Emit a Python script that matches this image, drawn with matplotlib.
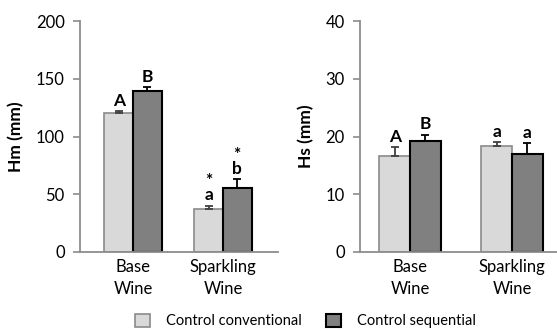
import numpy as np
import matplotlib.pyplot as plt

plt.rcParams['font.family'] = ['Lato', 'DejaVu Sans']

categories = ['Base\nWine', 'Sparkling\nWine']
series = ['Control conventional', 'Control sequential']

hm_conv = [120, 37]
hm_conv_err = [2, 3]
hm_seq = [139, 55]
hm_seq_err = [3.5, 8]
hm_letters_conv = ['A', '*\na']
hm_letters_seq = ['B', '*\nb']

hs_conv = [16.7, 18.4]
hs_conv_err = [1.4, 0.6]
hs_seq = [19.3, 17.0]
hs_seq_err = [1.0, 1.8]
hs_letters_conv = ['A', 'a']
hs_letters_seq = ['B', 'a']

W, H = 557, 331
fig = plt.figure(figsize=(W / 100, H / 100), dpi=100)

light = '#d9d9d9'
dark = '#808080'
spine_col = '#8c8c8c'


def panel(rect, xlim, width, conv, conv_err, seq, seq_err, lc, ls, ymax, ylabel, off):
    ax = fig.add_axes(rect)
    x = np.arange(len(categories))
    ax.bar(x - width / 2, conv, width, color=light, edgecolor='#8a8a8a', linewidth=1.2,
           yerr=[np.zeros(len(conv)), conv_err], error_kw=dict(ecolor='#404040', capsize=3, elinewidth=1.3, capthick=1.3),
           label=series[0], zorder=2)
    ax.bar(x + width / 2, seq, width, color=dark, edgecolor='black', linewidth=1.5,
           yerr=[np.zeros(len(seq)), seq_err], error_kw=dict(ecolor='black', capsize=3, elinewidth=1.3, capthick=1.3),
           label=series[1], zorder=2)
    for i in range(len(categories)):
        ax.text(x[i] - width / 2, conv[i] + conv_err[i] + off, lc[i], ha='center', va='bottom',
                fontsize=12.5, fontweight='bold', linespacing=0.85)
        ax.text(x[i] + width / 2, seq[i] + seq_err[i] + off, ls[i], ha='center', va='bottom',
                fontsize=12.5, fontweight='bold', linespacing=0.85)
    ax.set_xlim(*xlim)
    ax.set_ylim(0, ymax)
    ax.set_yticks(np.linspace(0, ymax, 5))
    ax.set_xticks(x)
    ax.set_xticklabels(categories, fontsize=12, linespacing=1.45)
    ax.tick_params(axis='x', length=0, pad=5)
    ax.tick_params(axis='y', length=5, color=spine_col, width=1.2, labelsize=12, pad=6)
    for s in ['top', 'right']:
        ax.spines[s].set_visible(False)
    for s in ['left', 'bottom']:
        ax.spines[s].set_color(spine_col)
        ax.spines[s].set_linewidth(1.3)
    ax.set_ylabel(ylabel, fontsize=12.5, fontweight='bold', labelpad=8)
    return ax


bottom = (H - 252) / H
height = 231 / H
ax1 = panel([80 / W, bottom, 198 / W, height], (-0.589, 1.611), 0.317,
            hm_conv, hm_conv_err, hm_seq, hm_seq_err, hm_letters_conv, hm_letters_seq, 200, 'Hm (mm)', 2)
ax2 = panel([360 / W, bottom, 197 / W, height], (-0.49, 1.44), 0.30,
            hs_conv, hs_conv_err, hs_seq, hs_seq_err, hs_letters_conv, hs_letters_seq, 40, 'Hs (mm)', 0.4)

handles, labels = ax1.get_legend_handles_labels()
fig.legend(handles, labels, loc='center left', bbox_to_anchor=(135 / W, 1 - 321 / H), ncol=2, frameon=False,
           fontsize=10.5, handlelength=1.05, handleheight=1.05, columnspacing=1.7, handletextpad=1.05,
           borderpad=0, borderaxespad=0)

fig.savefig('out.png', dpi=100)
